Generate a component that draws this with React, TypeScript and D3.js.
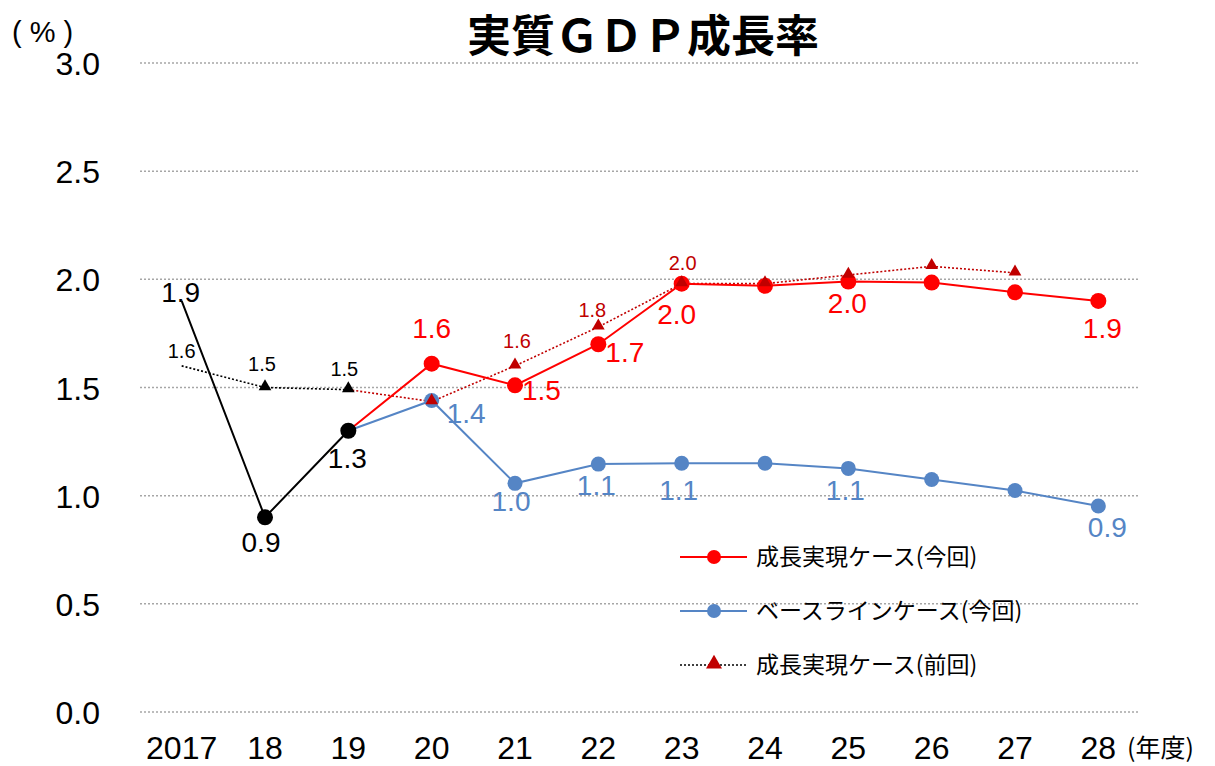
// @ts-nocheck
import React, { useEffect, useRef } from 'react';
import * as d3 from 'd3';

// 年度
const years = ['2017', '18', '19', '20', '21', '22', '23', '24', '25', '26', '27', '28'];

// 実績
const actual = [1.9, 0.9, 1.3, null, null, null, null, null, null, null, null, null];
// 成長実現ケース（今回）
const growthNow = [null, null, 1.3, 1.61, 1.51, 1.7, 1.98, 1.97, 1.99, 1.985, 1.94, 1.9];
// ベースラインケース（今回）
const baselineNow = [null, null, 1.3, 1.44, 1.057, 1.146, 1.15, 1.15, 1.126, 1.075, 1.024, 0.952];
// 成長実現ケース（前回）
const growthPrev = [1.6, 1.5, 1.49, 1.435, 1.6, 1.78, 1.98, 1.98, 2.02, 2.06, 2.03, null];

// データラベル
const actualLabels = ['1.9', '0.9', '1.3', null, null, null, null, null, null, null, null, null];
const growthNowLabels = [null, null, null, '1.6', '1.5', '1.7', '2.0', null, '2.0', null, null, '1.9'];
const baselineLabels = [null, null, null, '1.4', '1.0', '1.1', '1.1', null, '1.1', null, null, '0.9'];
const prevLabels = ['1.6', '1.5', '1.5', null, '1.6', '1.8', '2.0', null, null, null, null, null];

const yTicks = [0, 0.5, 1, 1.5, 2, 2.5, 3];

const legendItems = ['成長実現ケース(今回)', 'ベースラインケース(今回)', '成長実現ケース(前回)'];

// ラベル位置 [dx, dy, anchor]
const actualPos = [[-1, 1, 'middle'], [-4, 35, 'middle'], [-1, 37, 'middle']];
const growthNowPos = {
  3: [0, -26, 'middle'], 4: [7, 15, 'start'], 5: [7, 18, 'start'], 6: [-5, 40, 'middle'],
  8: [-1, 32, 'middle'], 11: [4, 37, 'middle'],
};
const baselinePos = {
  3: [15, 23, 'start'], 4: [-4, 28, 'middle'], 5: [-2, 31, 'middle'], 6: [-3, 37, 'middle'],
  8: [-3, 32, 'middle'], 11: [9, 31, 'middle'],
};
const prevPos = { 0: [0, -8], 1: [-3, -17], 2: [-4, -14], 4: [2, -18], 5: [-6, -10], 6: [1, -14] };

const RED = '#FF0000';
const BLUE = '#5585C5';
const DARKRED = '#C00000';
const NUM_FONT = '"Liberation Sans", Arial, sans-serif';
const JP_FONT = '"Noto Sans CJK JP", sans-serif';

const App: React.FC = () => {
  const ref = useRef<SVGSVGElement | null>(null);

  useEffect(() => {
    const svg = d3.select(ref.current);
    svg.selectAll('*').remove();

    const x = d3.scaleBand().domain(years).range([140, 1140]);
    const cx = (i) => x(years[i]) + x.bandwidth() / 2;
    const y = d3.scaleLinear().domain([0, 3]).range([712, 63]);

    // グリッド線
    svg.append('g').selectAll('line').data(yTicks).enter().append('line')
      .attr('x1', 140).attr('x2', 1140)
      .attr('y1', (d) => y(d)).attr('y2', (d) => y(d))
      .attr('stroke', '#A6A6A6').attr('stroke-width', 1.5).attr('stroke-dasharray', '2,2');

    // Y軸ラベル
    svg.append('g').selectAll('text').data(yTicks).enter().append('text')
      .attr('x', 100).attr('y', (d) => y(d) + 12)
      .attr('text-anchor', 'end')
      .style('font-family', NUM_FONT).style('font-size', '32px').style('fill', '#000')
      .text((d) => d3.format('.1f')(d));

    // X軸ラベル
    svg.append('g').selectAll('text').data(years).enter().append('text')
      .attr('x', (d, i) => cx(i)).attr('y', 759)
      .attr('text-anchor', 'middle')
      .style('font-family', NUM_FONT).style('font-size', '32px').style('fill', '#000')
      .text((d) => d);

    svg.append('text').attr('x', 1127).attr('y', 757)
      .style('font-family', JP_FONT).style('font-size', '25px').style('fill', '#000')
      .text('(年度)');
    svg.append('text').attr('x', 12).attr('y', 42)
      .style('font-family', NUM_FONT).style('font-size', '29px').style('fill', '#000')
      .text('( % )');

    // タイトル
    svg.append('text').attr('x', 643).attr('y', 52)
      .attr('text-anchor', 'middle')
      .style('font-family', JP_FONT).style('font-weight', 'bold').style('font-size', '44px')
      .style('fill', '#000')
      .text('実質ＧＤＰ成長率');

    const lineGen = (arr, from, to) => d3.line()
      .defined((d, i) => i >= from && i <= to && arr[i] != null)
      .x((d, i) => cx(i)).y((d) => y(d))(arr);

    // 前回（点線）
    svg.append('path').attr('d', lineGen(growthPrev, 0, 2))
      .attr('fill', 'none').attr('stroke', '#000').attr('stroke-width', 1.6).attr('stroke-dasharray', '2,2');
    svg.append('path').attr('d', lineGen(growthPrev, 2, 11))
      .attr('fill', 'none').attr('stroke', DARKRED).attr('stroke-width', 1.6).attr('stroke-dasharray', '2,2');

    // ベースライン
    svg.append('path').attr('d', lineGen(baselineNow, 0, 11))
      .attr('fill', 'none').attr('stroke', BLUE).attr('stroke-width', 2);
    // 成長実現
    svg.append('path').attr('d', lineGen(growthNow, 0, 11))
      .attr('fill', 'none').attr('stroke', RED).attr('stroke-width', 2);
    // 実績
    svg.append('path').attr('d', lineGen(actual, 0, 11))
      .attr('fill', 'none').attr('stroke', '#000').attr('stroke-width', 2);

    const dots = (arr, color, r, skip) => {
      svg.append('g').selectAll('circle')
        .data(arr.map((v, i) => ({ v, i })).filter((d) => d.v != null && !skip.includes(d.i)))
        .enter().append('circle')
        .attr('cx', (d) => cx(d.i)).attr('cy', (d) => y(d.v)).attr('r', r)
        .attr('fill', color);
    };
    dots(baselineNow, BLUE, 7.5, [2]);
    dots(growthNow, RED, 8, [2]);
    dots(actual, '#000', 8, [0]);

    const tri = d3.symbol().type(d3.symbolTriangle).size(70);
    svg.append('g').selectAll('path')
      .data(growthPrev.map((v, i) => ({ v, i })).filter((d) => d.v != null && d.i > 0))
      .enter().append('path')
      .attr('d', tri)
      .attr('transform', (d) => `translate(${cx(d.i)},${y(d.v) - 1})`)
      .attr('fill', (d) => (d.i <= 2 ? '#000' : DARKRED));

    // データラベル
    const labels = (arr, texts, pos, color, size) => {
      svg.append('g').selectAll('text')
        .data(texts.map((t, i) => ({ t, i })).filter((d) => d.t != null))
        .enter().append('text')
        .attr('x', (d) => cx(d.i) + pos[d.i][0])
        .attr('y', (d) => y(arr[d.i]) + pos[d.i][1])
        .attr('text-anchor', (d) => pos[d.i][2] || 'middle')
        .style('font-family', NUM_FONT).style('font-size', size)
        .style('fill', (d) => (typeof color === 'function' ? color(d.i) : color))
        .text((d) => d.t);
    };
    labels(actual, actualLabels, actualPos, '#000', '28px');
    labels(growthNow, growthNowLabels, growthNowPos, RED, '28px');
    labels(baselineNow, baselineLabels, baselinePos, BLUE, '28px');
    labels(growthPrev, prevLabels, prevPos, (i) => (i <= 2 ? '#000' : DARKRED), '20px');

    // 凡例
    const lg = svg.append('g');
    const legendY = [557, 611, 665];
    legendItems.forEach((name, k) => {
      const ly = legendY[k];
      if (k === 2) {
        lg.append('line').attr('x1', 680).attr('x2', 747).attr('y1', ly).attr('y2', ly)
          .attr('stroke', '#000').attr('stroke-width', 1.6).attr('stroke-dasharray', '2,2');
        lg.append('path').attr('d', d3.symbol().type(d3.symbolTriangle).size(110))
          .attr('transform', `translate(714,${ly - 1})`).attr('fill', DARKRED);
      } else {
        const c = k === 0 ? RED : BLUE;
        lg.append('line').attr('x1', 680).attr('x2', 747).attr('y1', ly).attr('y2', ly)
          .attr('stroke', c).attr('stroke-width', 2);
        lg.append('circle').attr('cx', 714).attr('cy', ly).attr('r', 7).attr('fill', c);
      }
      lg.append('text').attr('x', 756).attr('y', ly + 8)
        .style('font-family', JP_FONT).style('font-size', '23px').style('fill', '#000')
        .text(name);
    });
  }, []);

  return (
    <svg ref={ref} width={1215} height={766}
      style={{ position: 'absolute', left: 0, top: 0, background: '#fff' }} />
  );
};

export default App;
